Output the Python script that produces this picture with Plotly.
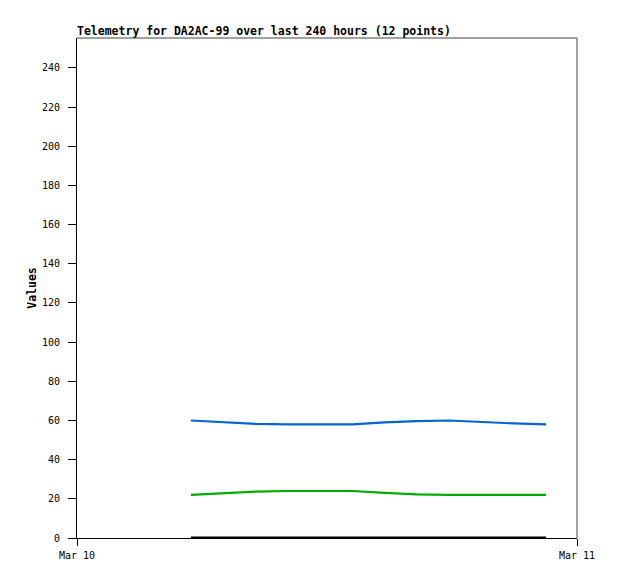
import plotly.graph_objects as go

title_text = "Telemetry for DA2AC-99 over last 240 hours (12 points)"
times = ["2024-03-10 05:28", "2024-03-10 07:01", "2024-03-10 08:34", "2024-03-10 10:07",
         "2024-03-10 11:40", "2024-03-10 13:13", "2024-03-10 14:46", "2024-03-10 16:19",
         "2024-03-10 17:52", "2024-03-10 19:25", "2024-03-10 20:58", "2024-03-10 22:31"]
blue_vals = [60, 59, 58.3, 58, 58, 58, 59, 59.7, 60, 59.2, 58.5, 58]
green_vals = [22, 23, 23.7, 24, 24, 24, 23, 22.3, 22, 22, 22, 22]
black_vals = [0, 0, 0, 0, 0, 0, 0, 0, 0, 0, 0, 0]
x_tickvals = ["2024-03-10", "2024-03-11"]
x_ticktext = ["Mar 10", "Mar 11"]
y_tickvals = [0, 20, 40, 60, 80, 100, 120, 140, 160, 180, 200, 220, 240]

FONT = "DejaVu Sans Mono"

fig = go.Figure()
for vals, col, w in [(black_vals, "#000000", 3), (green_vals, "#00aa00", 2.2), (blue_vals, "#0066cc", 2.2)]:
    fig.add_trace(go.Scatter(x=times, y=vals, mode="lines",
                             line=dict(color=col, width=w), showlegend=False,
                             hoverinfo="skip"))

W, H = 610, 571
fig.update_layout(
    width=W, height=H,
    margin=dict(l=69, r=41, t=30, b=41),
    paper_bgcolor="white", plot_bgcolor="white",
    font=dict(family=FONT, size=10, color="black"),
    title=dict(text="<b>" + title_text + "</b>", font=dict(family=FONT, size=11.5, color="black"),
               xref="paper", x=0, xanchor="left", yref="container", y=1 - 23 / H, yanchor="middle"),
    showlegend=False,
)
fig.update_xaxes(
    type="date", range=["2024-03-10", "2024-03-11"],
    tickvals=x_tickvals, ticktext=x_ticktext,
    showgrid=False, zeroline=False, showline=True, linecolor="black", linewidth=1,
    ticks="outside", ticklen=7, tickcolor="black", tickwidth=1,
    tickfont=dict(family=FONT, size=10), ticklabelstandoff=1,
)
fig.update_yaxes(
    range=[0, 255.3], tickvals=y_tickvals,
    showgrid=False, zeroline=False, showline=True, linecolor="black", linewidth=1,
    ticks="outside", ticklen=8, tickcolor="black", tickwidth=1,
    tickfont=dict(family=FONT, size=10), ticklabelstandoff=6,
    title=dict(text="<b>Values</b>", font=dict(family=FONT, size=11.5), standoff=2),
)
fig.add_shape(type="line", xref="paper", yref="paper", x0=0, x1=1, y0=1, y1=1,
              line=dict(color="#444444", width=1))
fig.add_shape(type="line", xref="paper", yref="paper", x0=1, x1=1, y0=0, y1=1,
              line=dict(color="#444444", width=1))

fig.write_html("out.html")
